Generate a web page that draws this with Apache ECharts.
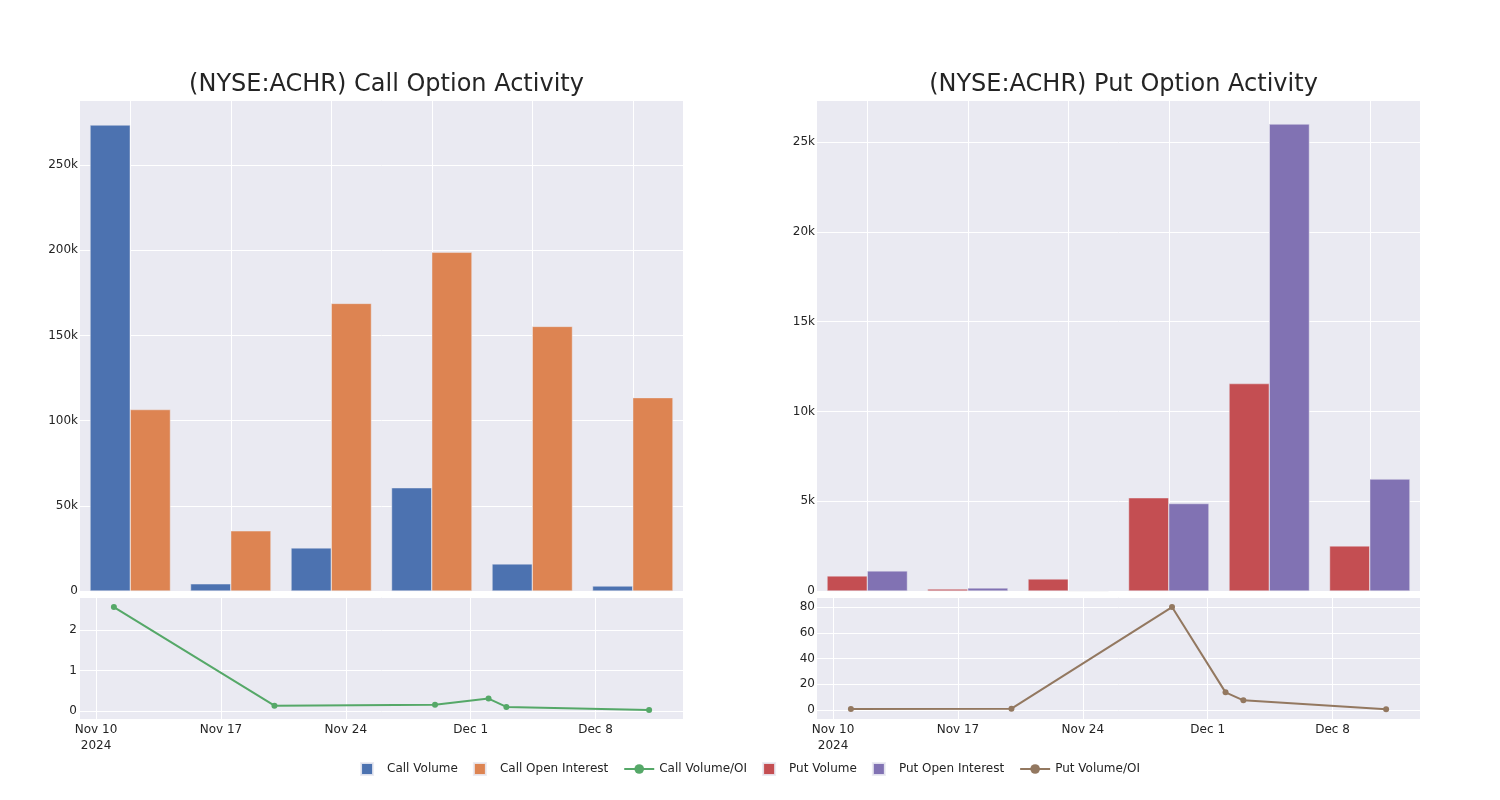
<!DOCTYPE html>
<html>
<head>
<meta charset="utf-8">
<script src="https://cdn.jsdelivr.net/npm/echarts@6/dist/echarts.min.js"></script>
<style>
html,body{margin:0;padding:0;background:#fff;}
#chart{width:1500px;height:800px;}
</style>
</head>
<body>
<div id="chart"></div>
<script>
// ---------- data ----------
const dates = ['2024-11-11', '2024-11-20', '2024-11-29', '2024-12-02', '2024-12-03', '2024-12-11'];
const callVolume = [273500, 4200, 25300, 60600, 15900, 2900];
const callOpenInterest = [106500, 35300, 168800, 198800, 155300, 113500];
const callVolOI = [2.57, 0.13, 0.15, 0.305, 0.10, 0.025];
const putVolume = [840, 110, 670, 5190, 11550, 2510];
const putOpenInterest = [1120, 170, 0, 4870, 26000, 6230];
const putVolOI = [0.77, 1.0, 80, 13.7, 7.5, 0.5];
const weekTicks = ['2024-11-10', '2024-11-17', '2024-11-24', '2024-12-01', '2024-12-08'];
const callTitle = '(NYSE:ACHR) Call Option Activity';
const putTitle = '(NYSE:ACHR) Put Option Activity';

// ---------- styling ----------
const FONT = '"DejaVu Sans", "Open Sans", sans-serif';
const TXT = '#242424';
const BG = '#EAEAF2';
const DAY = 86400000;
const ts = s => new Date(s + 'T00:00:00Z').getTime();
const timeMin = ts(dates[0]) - 1.9 * DAY;
const timeMax = ts(dates[dates.length - 1]) + 1.9 * DAY;
const tickTs = weekTicks.map(ts);
const MONTHS = ['Jan','Feb','Mar','Apr','May','Jun','Jul','Aug','Sep','Oct','Nov','Dec'];
function dateLabel(v) {
  const d = new Date(v);
  let s = MONTHS[d.getUTCMonth()] + ' ' + d.getUTCDate();
  if (Math.abs(v - tickTs[0]) < 1000) s += '\n' + d.getUTCFullYear();
  return s;
}
function kFmt(v) {
  if (v === 0) return '0';
  return (v / 1000) + 'k';
}

const grids = [
  {left: 80, top: 100, width: 603, height: 491},
  {left: 80, top: 597, width: 603, height: 122},
  {left: 817, top: 100, width: 603, height: 491},
  {left: 817, top: 597, width: 603, height: 122}
];

function catAxis(gi) {
  return {
    type: 'category', gridIndex: gi, data: dates,
    axisLine: {show: false}, axisTick: {show: false}, axisLabel: {show: false},
    splitLine: {show: true, alignWithLabel: true, lineStyle: {color: '#fff', width: 1}}
  };
}
function timeAxis(gi) {
  return {
    type: 'value', gridIndex: gi, min: timeMin, max: timeMax, scale: true,
    axisLine: {show: false},
    axisTick: {show: false, customValues: tickTs},
    axisLabel: {customValues: tickTs, formatter: dateLabel, color: TXT, fontFamily: FONT, fontSize: 12, margin: 3, lineHeight: 16},
    splitLine: {show: true, lineStyle: {color: '#fff', width: 1}}
  };
}
function valAxis(gi, opts) {
  return Object.assign({
    type: 'value', gridIndex: gi,
    axisLine: {show: false}, axisTick: {show: false},
    splitLine: {show: true, lineStyle: {color: '#fff', width: 1}}
  }, opts);
}

const barBorder = {borderColor: 'rgba(234,234,242,0.9)', borderWidth: 0.5};

const option = {
  backgroundColor: '#fff',
  animation: false,
  textStyle: {fontFamily: FONT},
  title: [
    {text: callTitle, left: 381.5, top: 68, textAlign: 'center',
     textStyle: {fontSize: 24, fontWeight: 'normal', color: TXT, fontFamily: FONT}},
    {text: putTitle, left: 1118.5, top: 68, textAlign: 'center',
     textStyle: {fontSize: 24, fontWeight: 'normal', color: TXT, fontFamily: FONT}}
  ],
  grid: grids.map(g => Object.assign({show: true, backgroundColor: BG, borderWidth: 0, containLabel: false}, g)),
  legend: {
    bottom: 19, left: 'center', itemWidth: 30, itemHeight: 12, itemGap: 15,
    symbolKeepAspect: true,
    textStyle: {color: TXT, fontSize: 12, fontFamily: FONT},
    data: [
      {name: 'Call Volume', icon: 'path://M0,0h10v10h-10z'},
      {name: 'Call Open Interest', icon: 'path://M0,0h10v10h-10z'},
      {name: 'Call Volume/OI'},
      {name: 'Put Volume', icon: 'path://M0,0h10v10h-10z'},
      {name: 'Put Open Interest', icon: 'path://M0,0h10v10h-10z'},
      {name: 'Put Volume/OI'}
    ]
  },
  xAxis: [catAxis(0), timeAxis(1), catAxis(2), timeAxis(3)],
  yAxis: [
    valAxis(0, {min: 0, max: 288200, interval: 50000, axisLabel: {color: TXT, fontFamily: FONT, fontSize: 12, margin: 2, showMaxLabel: false, formatter: kFmt}}),
    valAxis(1, {min: -0.2, max: 2.82, splitNumber: 3, axisLabel: {color: TXT, fontFamily: FONT, fontSize: 12, margin: 3, formatter: v => Number.isInteger(v) ? String(v) : ''}}),
    valAxis(2, {min: 0, max: 27340, interval: 5000, axisLabel: {color: TXT, fontFamily: FONT, fontSize: 12, margin: 2, showMaxLabel: false, formatter: kFmt}}),
    valAxis(3, {min: -7, max: 87.8, splitNumber: 5, axisLabel: {color: TXT, fontFamily: FONT, fontSize: 12, margin: 2, formatter: v => (v % 20 === 0) ? String(v) : ''}})
  ],
  series: [
    {name: 'Call Volume', type: 'bar', xAxisIndex: 0, yAxisIndex: 0, data: callVolume,
     barWidth: '40%', barGap: '0%', itemStyle: Object.assign({color: '#4C72B0'}, barBorder)},
    {name: 'Call Open Interest', type: 'bar', xAxisIndex: 0, yAxisIndex: 0, data: callOpenInterest,
     barWidth: '40%', barGap: '0%', itemStyle: Object.assign({color: '#DD8452'}, barBorder)},
    {name: 'Call Volume/OI', type: 'line', xAxisIndex: 1, yAxisIndex: 1,
     data: dates.map((d, i) => [ts(d), callVolOI[i]]),
     symbol: 'circle', symbolSize: 6, showSymbol: true,
     lineStyle: {color: '#55A868', width: 2}, itemStyle: {color: '#55A868'}},
    {name: 'Put Volume', type: 'bar', xAxisIndex: 2, yAxisIndex: 2, data: putVolume,
     barWidth: '40%', barGap: '0%', itemStyle: Object.assign({color: '#C44E52'}, barBorder)},
    {name: 'Put Open Interest', type: 'bar', xAxisIndex: 2, yAxisIndex: 2, data: putOpenInterest,
     barWidth: '40%', barGap: '0%', itemStyle: Object.assign({color: '#8172B3'}, barBorder)},
    {name: 'Put Volume/OI', type: 'line', xAxisIndex: 3, yAxisIndex: 3,
     data: dates.map((d, i) => [ts(d), putVolOI[i]]),
     symbol: 'circle', symbolSize: 6, showSymbol: true,
     lineStyle: {color: '#937860', width: 2}, itemStyle: {color: '#937860'}}
  ]
};

const chart = echarts.init(document.getElementById('chart'), null, {renderer: 'canvas'});
chart.setOption(option);
</script>
</body>
</html>
